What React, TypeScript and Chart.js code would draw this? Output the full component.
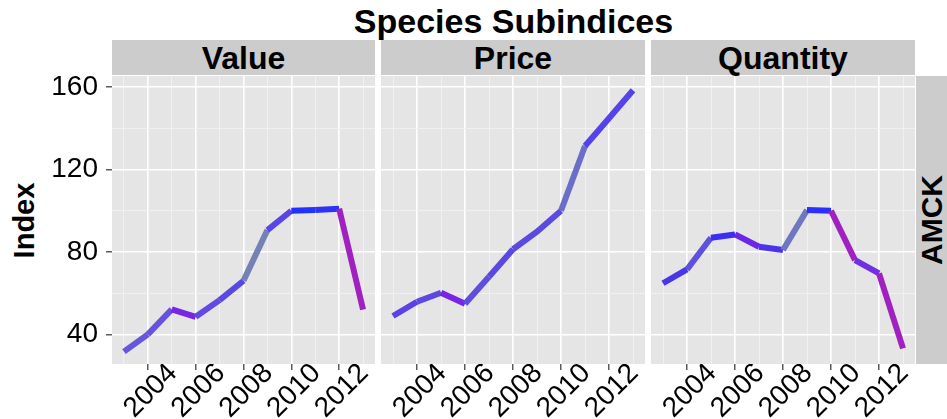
import React, { useEffect, useRef } from 'react';
import { Chart, registerables } from 'chart.js';

Chart.register(...registerables);

const years = [2003, 2004, 2005, 2006, 2007, 2008, 2009, 2010, 2011, 2012, 2013];
const valueIndex = [31.6, 40, 52.1, 48.5, 56.6, 66, 90.6, 100, 100.3, 101, 52];
const priceIndex = [48.9, 55.8, 60.2, 54.8, 68, 81.3, 89.8, 100, 131.4, 144.9, 158.5];
const quantityIndex = [64.8, 71.5, 86.9, 88.5, 82.5, 80.9, 100.3, 100, 76, 69.6, 33.2];

const valueColors = ['#6656dc', '#6652de', '#7a24e6', '#6348e2', '#5a48e2', '#7480b6', '#5a46e4', '#2233ff', '#2c33f4', '#a020c0'];
const priceColors = ['#5a42e6', '#5e48e2', '#7a24e6', '#5e4ee0', '#5a48e2', '#5a4ae0', '#5a4ae0', '#6a6ec8', '#5542ea', '#5542ea'];
const quantityColors = ['#4a36ea', '#5e52dc', '#3a2ef4', '#6a28e6', '#4a32ee', '#6e78c0', '#2a30ff', '#a020c0', '#7030e2', '#a020c0'];

const facetNames = ['Value', 'Price', 'Quantity'];
const rowLabel = 'AMCK';
const chartTitle = 'Species Subindices';
const yAxisTitle = 'Index';
const yTicks = [40, 80, 120, 160];
const yMinorTicks = [60, 100, 140];
const xTicks = [2004, 2006, 2008, 2010, 2012];
const xMinorTicks = [2003, 2005, 2007, 2009, 2011, 2013];

const X_MIN = 2002.5;
const X_MAX = 2013.5;
const Y_MIN = 25.6;
const Y_MAX = 165.4;

const FONT = '"Liberation Sans", Arial, Helvetica, sans-serif';

const PANEL_TOP = 76;
const PANEL_BOTTOM = 364;
const CANVAS_H = 419 - PANEL_TOP;

const bgPlugin = {
  id: 'panelBg',
  beforeDraw(chart: any) {
    const { ctx, chartArea } = chart;
    ctx.save();
    ctx.fillStyle = '#e5e5e5';
    ctx.fillRect(chartArea.left, chartArea.top, chartArea.right - chartArea.left, chartArea.bottom - chartArea.top);
    ctx.restore();
  },
};

function Panel(props: { values: number[]; colors: string[]; showY: boolean; left: number; width: number }) {
  const { values, colors, showY, left, width } = props;
  const ref = useRef<HTMLCanvasElement>(null);
  useEffect(() => {
    const xAll = [...xTicks, ...xMinorTicks].sort((a, b) => a - b);
    const yAll = [...yTicks, ...yMinorTicks].sort((a, b) => a - b);
    const chart = new Chart(ref.current as HTMLCanvasElement, {
      type: 'line',
      data: {
        datasets: [
          {
            data: years.map((yr, i) => ({ x: yr, y: values[i] })),
            borderWidth: 6,
            pointRadius: 0,
            borderCapStyle: 'butt',
            borderJoinStyle: 'miter',
            borderColor: colors[0],
            tension: 0,
            segment: {
              borderColor: (ctx: any) => colors[ctx.p0DataIndex],
            },
          } as any,
        ],
      },
      options: {
        animation: false,
        responsive: false,
        maintainAspectRatio: false,
        events: [],
        layout: { padding: 0 },
        plugins: {
          legend: { display: false },
          tooltip: { enabled: false },
          title: { display: false },
        },
        scales: {
          x: {
            type: 'linear',
            min: X_MIN,
            max: X_MAX,
            border: { display: false },
            afterBuildTicks: (s: any) => {
              s.ticks = xAll.map((v) => ({ value: v }));
            },
            afterFit: (s: any) => {
              s.height = CANVAS_H - (PANEL_BOTTOM - PANEL_TOP);
              s.paddingLeft = 0;
              s.paddingRight = 0;
            },
            grid: {
              color: (c: any) => (xTicks.includes(c.tick?.value) ? '#ffffff' : '#f2f2f2'),
              lineWidth: (c: any) => (xTicks.includes(c.tick?.value) ? 1.6 : 0.8),
              tickColor: (c: any) => (xTicks.includes(c.tick?.value) ? '#333333' : 'rgba(0,0,0,0)'),
              tickLength: 6,
              tickWidth: 1.2,
            },
            ticks: {
              autoSkip: false,
              minRotation: 45,
              maxRotation: 45,
              labelOffset: 25,
              padding: -13,
              color: '#000000',
              font: { family: FONT, size: 28 },
              callback: (v: any) => (xTicks.includes(Number(v)) ? String(v) : ''),
            },
          },
          y: {
            type: 'linear',
            min: Y_MIN,
            max: Y_MAX,
            border: { display: false },
            afterBuildTicks: (s: any) => {
              s.ticks = yAll.map((v) => ({ value: v }));
            },
            afterFit: (s: any) => {
              s.width = showY ? 112 : 0;
              s.paddingTop = 0;
              s.paddingBottom = 0;
            },
            grid: {
              color: (c: any) => (yTicks.includes(c.tick?.value) ? '#ffffff' : '#f2f2f2'),
              lineWidth: (c: any) => (yTicks.includes(c.tick?.value) ? 1.6 : 0.8),
              tickColor: (c: any) => (showY && yTicks.includes(c.tick?.value) ? '#333333' : 'rgba(0,0,0,0)'),
              drawTicks: showY,
              tickLength: 6,
              tickWidth: 1.2,
            },
            ticks: {
              display: showY,
              padding: 8,
              color: '#000000',
              font: { family: FONT, size: 28 },
              callback: (v: any) => (yTicks.includes(Number(v)) ? String(v) : ''),
            },
          },
        },
      } as any,
      plugins: [bgPlugin],
    });
    return () => chart.destroy();
  }, []);
  return (
    <canvas
      ref={ref}
      width={width}
      height={CANVAS_H}
      style={{ position: 'absolute', left, top: PANEL_TOP, width, height: CANVAS_H }}
    />
  );
}

const stripStyle: React.CSSProperties = {
  position: 'absolute',
  top: 40,
  height: 35,
  background: '#cccccc',
  display: 'flex',
  alignItems: 'center',
  justifyContent: 'center',
  fontFamily: FONT,
  fontWeight: 'bold',
  fontSize: 32,
  lineHeight: 1,
  color: '#000',
};

export default function App() {
  const panels = [
    { name: facetNames[0], values: valueIndex, colors: valueColors, left: 0, width: 375, stripLeft: 112 },
    { name: facetNames[1], values: priceIndex, colors: priceColors, left: 381, width: 264, stripLeft: 381 },
    { name: facetNames[2], values: quantityIndex, colors: quantityColors, left: 651, width: 264, stripLeft: 651 },
  ];
  return (
    <div style={{ position: 'fixed', left: 0, top: 0, width: 947, height: 419, background: '#ffffff', overflow: 'hidden' }}>
      <div
        style={{
          position: 'absolute', left: 112, top: 0, width: 803, height: 42,
          display: 'flex', alignItems: 'center', justifyContent: 'center',
          fontFamily: FONT, fontWeight: 'bold', fontSize: 34, lineHeight: 1, color: '#000',
        }}
      >
        {chartTitle}
      </div>
      {panels.map((p, i) => (
        <div key={'s' + i} style={{ ...stripStyle, left: p.stripLeft, width: p.left + p.width - p.stripLeft }}>
          {p.name}
        </div>
      ))}
      <div
        style={{
          position: 'absolute', left: 916, top: PANEL_TOP, width: 31, height: PANEL_BOTTOM - PANEL_TOP,
          background: '#cccccc', display: 'flex', alignItems: 'center', justifyContent: 'center',
          fontFamily: FONT, fontWeight: 'bold', fontSize: 30, lineHeight: 1, color: '#000',
        }}
      >
        <span style={{ transform: 'rotate(-90deg)', whiteSpace: 'nowrap', display: 'inline-block' }}>{rowLabel}</span>
      </div>
      <div
        style={{
          position: 'absolute', left: 0, top: PANEL_TOP, width: 50, height: PANEL_BOTTOM - PANEL_TOP,
          display: 'flex', alignItems: 'center', justifyContent: 'center',
          fontFamily: FONT, fontWeight: 'bold', fontSize: 29, lineHeight: 1, color: '#000',
        }}
      >
        <span style={{ transform: 'rotate(-90deg)', whiteSpace: 'nowrap', display: 'inline-block' }}>{yAxisTitle}</span>
      </div>
      {panels.map((p, i) => (
        <Panel key={'p' + i} values={p.values} colors={p.colors} showY={i === 0} left={p.left} width={p.width} />
      ))}
    </div>
  );
}
